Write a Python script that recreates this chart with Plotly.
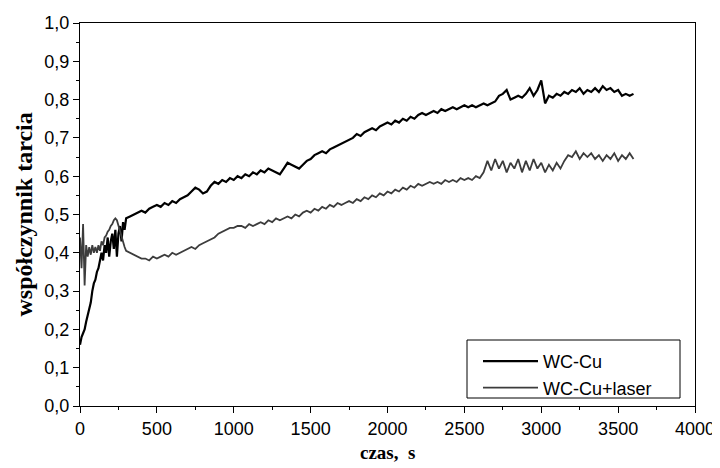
import plotly.graph_objects as go

# --- dane: wspolczynnik tarcia w funkcji czasu ---
# poczatek probki co 10 s (0..300 s), dalej co 25 s (325..3600 s)
wc_cu_start = [0.16, 0.18, 0.19, 0.20, 0.22, 0.24, 0.26, 0.27, 0.30, 0.32,
               0.33, 0.35, 0.36, 0.38, 0.40, 0.38, 0.42, 0.40, 0.44, 0.39,
               0.43, 0.45, 0.41, 0.46, 0.39, 0.45, 0.47, 0.43, 0.48, 0.46, 0.49]
wc_cu_rest = [0.495, 0.50, 0.505, 0.51, 0.505, 0.515, 0.52, 0.525, 0.52, 0.53,
              0.525, 0.535, 0.53, 0.54, 0.545, 0.55, 0.56, 0.57, 0.565, 0.555,
              0.56, 0.575, 0.585, 0.58, 0.59, 0.585, 0.595, 0.59, 0.60, 0.595,
              0.605, 0.60, 0.61, 0.605, 0.615, 0.61, 0.62, 0.615, 0.61, 0.605,
              0.62, 0.635, 0.63, 0.625, 0.62, 0.63, 0.64, 0.645, 0.655, 0.66,
              0.665, 0.66, 0.67, 0.675, 0.68, 0.685, 0.69, 0.695, 0.70, 0.71,
              0.705, 0.715, 0.72, 0.725, 0.72, 0.73, 0.735, 0.74, 0.735, 0.745,
              0.74, 0.75, 0.745, 0.755, 0.75, 0.76, 0.765, 0.76, 0.765, 0.77,
              0.765, 0.775, 0.77, 0.775, 0.78, 0.775, 0.78, 0.785, 0.78, 0.785,
              0.78, 0.785, 0.79, 0.785, 0.79, 0.795, 0.81, 0.815, 0.825, 0.80,
              0.805, 0.81, 0.805, 0.815, 0.83, 0.81, 0.825, 0.85, 0.79, 0.81,
              0.805, 0.815, 0.81, 0.82, 0.815, 0.825, 0.82, 0.83, 0.815, 0.825,
              0.82, 0.83, 0.82, 0.835, 0.825, 0.83, 0.82, 0.825, 0.81, 0.815,
              0.81, 0.815]

laser_start = [0.44, 0.36, 0.475, 0.315, 0.42, 0.39, 0.415, 0.395, 0.42, 0.40,
               0.415, 0.40, 0.42, 0.405, 0.43, 0.42, 0.44, 0.445, 0.455, 0.46,
               0.47, 0.475, 0.485, 0.49, 0.485, 0.47, 0.455, 0.44, 0.425, 0.415, 0.405]
laser_rest = [0.40, 0.395, 0.39, 0.385, 0.385, 0.38, 0.39, 0.385, 0.39, 0.395,
              0.39, 0.40, 0.395, 0.40, 0.405, 0.41, 0.415, 0.41, 0.42, 0.425,
              0.43, 0.435, 0.44, 0.45, 0.455, 0.46, 0.465, 0.465, 0.47, 0.47,
              0.465, 0.475, 0.47, 0.475, 0.48, 0.475, 0.485, 0.48, 0.49, 0.485,
              0.49, 0.495, 0.49, 0.50, 0.495, 0.505, 0.51, 0.505, 0.515, 0.51,
              0.52, 0.515, 0.525, 0.52, 0.53, 0.525, 0.53, 0.535, 0.53, 0.54,
              0.535, 0.545, 0.54, 0.55, 0.545, 0.555, 0.55, 0.56, 0.555, 0.565,
              0.56, 0.57, 0.565, 0.575, 0.57, 0.58, 0.575, 0.58, 0.585, 0.58,
              0.585, 0.58, 0.59, 0.585, 0.59, 0.585, 0.595, 0.59, 0.595, 0.59,
              0.60, 0.595, 0.61, 0.64, 0.615, 0.645, 0.62, 0.64, 0.61, 0.635,
              0.62, 0.645, 0.61, 0.64, 0.615, 0.645, 0.62, 0.635, 0.61, 0.63,
              0.615, 0.635, 0.62, 0.64, 0.655, 0.65, 0.665, 0.645, 0.66, 0.65,
              0.66, 0.645, 0.655, 0.64, 0.655, 0.645, 0.66, 0.64, 0.655, 0.645,
              0.66, 0.645]

t_start = [10 * i for i in range(31)]
t_rest = [325 + 25 * i for i in range(132)]

czas = t_start + t_rest
wc_cu = wc_cu_start + wc_cu_rest
wc_cu_laser = laser_start + laser_rest

tick_font = dict(family="Liberation Sans, Arial", size=18, color="black")
title_font = dict(family="Liberation Serif, Times New Roman", color="black")

# strona ma 8 px marginesu body, wiec figura jest o 8 px mniejsza
W, H = 712, 460
ML, MT, MR, MB = 72, 15, 25, 62
PW, PH = W - ML - MR, H - MT - MB   # 615 x 383


def px_x(x):
    # piksel okna -> wspolrzedna paper
    return (x - 8 - ML) / PW


def px_y(y):
    return (H - MB - (y - 8)) / PH


fig = go.Figure()
fig.add_trace(go.Scatter(x=czas, y=wc_cu, mode="lines", name="WC-Cu",
                         line=dict(color="black", width=2.2)))
fig.add_trace(go.Scatter(x=czas, y=wc_cu_laser, mode="lines", name="WC-Cu+laser",
                         line=dict(color="#3c3c3c", width=1.8)))

fig.update_xaxes(range=[0, 4000], dtick=500, tick0=0, automargin=False,
                 ticklabeloverflow="allow",
                 showline=True, mirror=True, linecolor="black", linewidth=1.2,
                 ticks="outside", ticklen=6, tickcolor="black",
                 minor=dict(dtick=250, ticks="outside", ticklen=3, tickcolor="black"),
                 showgrid=False, zeroline=False, tickfont=tick_font)
fig.update_yaxes(range=[0, 1], dtick=0.1, tick0=0, tickformat=".1f", automargin=False,
                 showline=True, mirror=True, linecolor="black", linewidth=1.2,
                 ticks="outside", ticklen=6, tickcolor="black",
                 minor=dict(dtick=0.05, ticks="outside", ticklen=3, tickcolor="black"),
                 showgrid=False, zeroline=False, tickfont=tick_font)

# tytuly osi
fig.add_annotation(text="<b>czas,  s</b>", xref="paper", yref="paper",
                   x=0.5, y=px_y(452), xanchor="center", yanchor="middle",
                   showarrow=False, font=dict(size=19, **title_font))
fig.add_annotation(text="<b>współczynnik tarcia</b>", xref="paper", yref="paper",
                   x=px_x(23), y=0.5, xanchor="center", yanchor="middle", textangle=-90,
                   showarrow=False, font=dict(size=24, **title_font))

# ramka legendy
fig.add_shape(type="rect", xref="paper", yref="paper",
              x0=px_x(467), x1=px_x(680), y0=px_y(398), y1=px_y(340),
              line=dict(color="black", width=1), fillcolor="white", layer="below")

fig.update_layout(
    width=W, height=H,
    margin=dict(l=ML, r=MR, t=MT, b=MB),
    paper_bgcolor="white", plot_bgcolor="white",
    separators=", ",
    showlegend=True,
    legend=dict(x=px_x(478), y=px_y(343), xanchor="left", yanchor="top",
                bgcolor="rgba(0,0,0,0)", borderwidth=0,
                font=dict(family="Liberation Sans, Arial", size=18, color="black"),
                itemwidth=55, tracegroupgap=0),
)

fig.write_html("out.html")
